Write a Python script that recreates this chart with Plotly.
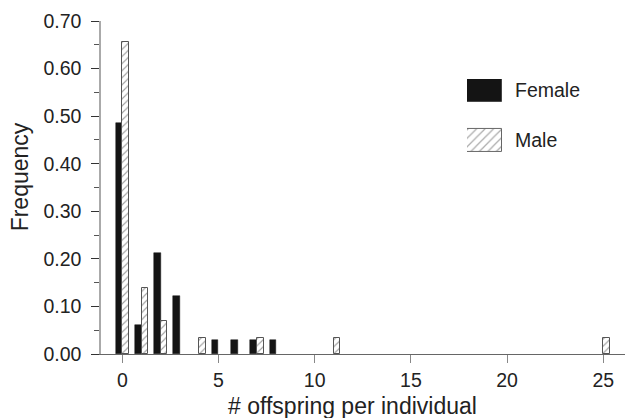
import plotly.graph_objects as go

# Data
offspring = [0, 1, 2, 3, 4, 5, 6, 7, 8, 11, 25]
female_freq = [0.485, 0.061, 0.212, 0.121, None, 0.030, 0.030, 0.030, 0.030, None, None]
male_freq = [0.655, 0.138, 0.069, None, 0.0345, None, None, 0.0345, None, 0.0345, 0.0345]
y_ticks = [0.0, 0.1, 0.2, 0.3, 0.4, 0.5, 0.6, 0.7]
x_ticks = [0, 5, 10, 15, 20, 25]
legend_names = ["Female", "Male"]

FONT = "Liberation Sans, Arial, Helvetica, sans-serif"
BW = 0.34
TICK_SIZE = 19.5
TITLE_SIZE = 23

fig = go.Figure()
fig.add_trace(go.Bar(
    x=offspring, y=female_freq, width=BW, offset=-BW,
    marker=dict(color="#141414", line=dict(color="#141414", width=0.5)),
    showlegend=False, name=legend_names[0]))
fig.add_trace(go.Bar(
    x=offspring, y=male_freq, width=BW, offset=0,
    marker=dict(color="white", line=dict(color="#555555", width=1),
                pattern=dict(shape="/", fgcolor="#444444", bgcolor="white",
                             size=5, solidity=0.22)),
    showlegend=False, name=legend_names[1]))

# legend keys drawn in an inset axis
fig.add_trace(go.Bar(
    x=[1], y=[1], orientation="h", width=0.46, xaxis="x2", yaxis="y2",
    marker=dict(color="#141414", line=dict(color="#444444", width=1)),
    showlegend=False, hoverinfo="skip"))
fig.add_trace(go.Bar(
    x=[1], y=[0], orientation="h", width=0.46, xaxis="x2", yaxis="y2",
    marker=dict(color="white", line=dict(color="#666666", width=1),
                pattern=dict(shape="/", fgcolor="#555555", bgcolor="white",
                             size=6, solidity=0.2)),
    showlegend=False, hoverinfo="skip"))

W, H = 625, 418
L, R, T, B = 101, 0, 21, 418 - 354.3
pw = W - L - R
ph = H - T - B

def px(xp):
    return (xp - L) / pw

def py(yp):
    return (H - B - yp) / ph

fig.update_layout(
    width=W, height=H,
    margin=dict(l=L, r=R, t=T, b=B, pad=0),
    paper_bgcolor="white", plot_bgcolor="white",
    font=dict(family=FONT, size=TICK_SIZE, color="#222222"),
    barmode="overlay",
    bargap=0,
    xaxis=dict(range=[-1.107, 26.13], tickvals=x_ticks, ticktext=[str(v) for v in x_ticks],
               ticks="outside", ticklen=8, tickcolor="#888888", tickwidth=1,
               showline=True, linecolor="#666666", linewidth=1.2,
               showgrid=False, zeroline=False, ticklabelstandoff=0,
               tickfont=dict(size=TICK_SIZE, color="#222222")),
    yaxis=dict(range=[0, 0.70], tickvals=y_ticks, ticktext=[f"{v:.2f}" for v in y_ticks],
               ticks="outside", ticklen=8, tickcolor="#333333", tickwidth=1,
               minor=dict(dtick=0.05, tick0=0, ticks="outside", ticklen=5,
                          tickcolor="#555555", tickwidth=1),
               showline=True, linecolor="#aaaaaa", linewidth=1.5,
               showgrid=False, zeroline=False, ticklabelstandoff=6,
               tickfont=dict(size=TICK_SIZE, color="#222222")),
    xaxis2=dict(domain=[px(467), px(502)], range=[0, 1], anchor="y2",
                visible=False, fixedrange=True),
    yaxis2=dict(domain=[py(152), py(79)], range=[-0.23, 1.23], anchor="x2",
                visible=False, fixedrange=True),
    annotations=[
        dict(text=legend_names[0], x=px(512.5), y=py(90.5), xref="paper", yref="paper",
             xanchor="left", yanchor="middle", showarrow=False,
             font=dict(size=TICK_SIZE, color="#222222")),
        dict(text=legend_names[1], x=px(512.5), y=py(140.5), xref="paper", yref="paper",
             xanchor="left", yanchor="middle", showarrow=False,
             font=dict(size=TICK_SIZE, color="#222222")),
        dict(text="# offspring per individual", x=px(352.5), y=py(406), xref="paper",
             yref="paper", xanchor="center", yanchor="middle", showarrow=False,
             font=dict(size=TITLE_SIZE, color="#222222")),
        dict(text="Frequency", x=px(20), y=py(177.5), xref="paper", yref="paper",
             xanchor="center", yanchor="middle", textangle=-90, showarrow=False,
             font=dict(size=TITLE_SIZE, color="#222222")),
    ],
)

fig.write_html("out.html", config={"displayModeBar": False},
               post_script="document.body.style.margin='0';")
